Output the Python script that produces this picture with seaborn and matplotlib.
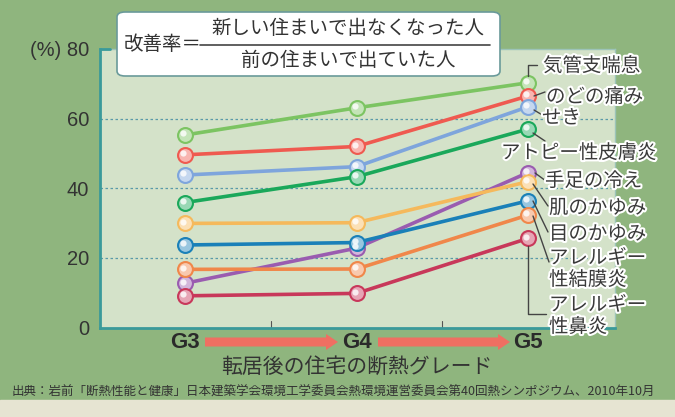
import matplotlib
matplotlib.use("Agg")
import matplotlib.pyplot as plt
import matplotlib.patheffects as pe
from matplotlib.patches import FancyBboxPatch, FancyArrow, Rectangle
import seaborn as sns
import pandas as pd
import numpy as np
import matplotlib.colors as mcolors

grades = ["G3", "G4", "G5"]
series_names = ["気管支喘息", "のどの痛み", "せき", "アトピー性皮膚炎", "手足の冷え",
                "肌のかゆみ", "目のかゆみ", "アレルギー性結膜炎", "アレルギー性鼻炎"]
v_kikanshi = [55.3, 63.1, 70.3]
v_nodo = [49.6, 52.0, 66.5]
v_seki = [43.8, 46.2, 63.4]
v_atopy = [35.9, 43.3, 57.0]
v_teashi = [12.7, 22.8, 44.5]
v_hada = [29.9, 30.1, 41.9]
v_me = [23.7, 24.4, 36.4]
v_ketsumaku = [16.7, 16.8, 32.3]
v_bien = [9.1, 9.8, 25.6]
values = [v_kikanshi, v_nodo, v_seki, v_atopy, v_teashi, v_hada, v_me, v_ketsumaku, v_bien]
colors = ["#7cc462", "#ef5a50", "#7ea5dc", "#1aa85a", "#9a5cb0",
          "#f5b95c", "#1a80b8", "#f0874a", "#c8385a"]
yticks = [0, 20, 40, 60, 80]

df = pd.DataFrame([(s, g, v) for s, vals in zip(series_names, values) for g, v in zip(grades, vals)],
                  columns=["series", "grade", "value"])
df["x"] = df["grade"].map({g: i for i, g in enumerate(grades)})

sns.set_theme(style="white")
plt.rcParams["font.family"] = ["Noto Sans CJK JP", "DejaVu Sans"]

W, H = 675, 417
fig = plt.figure(figsize=(W / 100, H / 100), dpi=100)
fig.patch.set_facecolor("#8fb57e")
fig.add_artist(Rectangle((0, 0), 1, 17 / H, transform=fig.transFigure, color="#e6e4d2", zorder=0))

def fx(px):
    return px / W
def fy(py):
    return 1 - py / H

ax = fig.add_axes([fx(100), fy(327.5), fx(615) - fx(100), fy(49) - fy(327.5)])
ax.set_facecolor("#d4e2c9")
pal = dict(zip(series_names, colors))
sns.lineplot(data=df, x="x", y="value", hue="series", palette=pal, hue_order=series_names,
             linewidth=2.6, legend=False, ax=ax, zorder=3)
for s, c in zip(series_names, colors):
    sub = df[df.series == s]
    light = mcolors.to_rgb(c)
    light = tuple(0.45 * np.array(light) + 0.55)
    ax.scatter(sub["x"], sub["value"], s=115, color=light, edgecolor=c, linewidth=1.5, zorder=4)
    ax.scatter(sub["x"] - 0.01, sub["value"] + 0.5, s=20, color="white", alpha=0.8, linewidth=0, zorder=5)

ax.set_xlim((100 - 185) / 171.5, (615 - 185) / 171.5)
ax.set_ylim(0, 80)
ax.set_yticks(yticks)
ax.set_yticklabels(["0", "20", "40", "60", "(%) 80"], fontsize=14.5, color="#333333",
                   fontfamily="Liberation Sans")
ax.tick_params(axis="y", length=0, pad=8)
ax.set_xticks([])
for y in [20, 40, 60]:
    ax.axhline(y, color="#5a9aa8", lw=0.9, ls=(0, (2, 2)), zorder=1)
ax.plot([-0.496, -0.44], [80, 80], color="#3a9a9a", lw=2, clip_on=False, zorder=6)
for xm in [0.5, 1.5]:
    ax.plot([xm, xm], [0, 2], color="#555555", lw=0.8, zorder=2)
for side in ["left", "bottom"]:
    ax.spines[side].set_color("#3a9a9a")
    ax.spines[side].set_linewidth(2)
for side in ["top", "right"]:
    ax.spines[side].set_color("#9cc4b8")
    ax.spines[side].set_linewidth(1)
ax.set_xlabel("")
ax.set_ylabel("")

# formula box
box = FancyBboxPatch((fx(117), fy(76)), fx(500) - fx(117), fy(12) - fy(76),
                     boxstyle="round,pad=0,rounding_size=0.012", transform=fig.transFigure,
                     facecolor="white", edgecolor="#6a9a9a", lw=1.2, zorder=10)
fig.add_artist(box)
fig.text(fx(124), fy(45), "改善率＝", fontsize=14, color="#333333", va="center", ha="left", zorder=11)
fig.add_artist(plt.Line2D([fx(200), fx(490)], [fy(45), fy(45)], transform=fig.transFigure,
                          color="#444444", lw=1.2, zorder=11))
fig.text(fx(348), fy(29), "新しい住まいで出なくなった人", fontsize=14, color="#333333",
         va="center", ha="center", zorder=11)
fig.text(fx(348), fy(60), "前の住まいで出ていた人", fontsize=14, color="#333333",
         va="center", ha="center", zorder=11)

# right labels
stroke = [pe.withStroke(linewidth=3, foreground="white")]
labels = [
    ("気管支喘息", 543, 66, "left"),
    ("のどの痛み", 546, 97, "left"),
    ("せき", 542, 118, "left"),
    ("アトピー性皮膚炎", 579, 153, "center"),
    ("手足の冷え", 545, 181, "left"),
    ("肌のかゆみ", 549, 208, "left"),
    ("目のかゆみ", 549, 234, "left"),
    ("アレルギー\n性結膜炎", 549, 269, "left"),
    ("アレルギー\n性鼻炎", 549, 316, "left"),
]
for t, x, y, ha in labels:
    fig.text(fx(x), fy(y), t, fontsize=14, color="#3a3a3a", va="center", ha=ha,
             path_effects=stroke, linespacing=1.05, zorder=12)

leaders = [
    [(528, 76), (528, 65), (537, 65)],
    [(534, 96), (545, 92)],
    [(534, 110), (544, 116)],
    [(533, 133), (545, 141)],
    [(535, 173), (546, 181)],
    [(533, 184), (548, 206)],
    [(533, 201), (548, 232)],
    [(533, 216), (549, 262)],
    [(528, 246), (528, 314), (546, 314)],
]
for pts in leaders:
    xs = [fx(p[0]) for p in pts]
    ys = [fy(p[1]) for p in pts]
    fig.add_artist(plt.Line2D(xs, ys, transform=fig.transFigure, color="#444444", lw=1.0, zorder=9))

# x grade labels and arrows
for g, px in zip(grades, [185, 357, 528]):
    fig.text(fx(px), fy(343), g, fontsize=16, color="#2a2a2a", ha="center", va="center",
             fontfamily="Liberation Sans", fontweight="bold")
for x0, x1 in [(205, 338), (378, 510)]:
    arr = FancyArrow(fx(x0), fy(342), fx(x1) - fx(x0), 0, width=9 / H, head_width=16 / H,
                     head_length=12 / W, length_includes_head=True, transform=fig.transFigure,
                     color="#ef6f62", lw=0)
    fig.add_artist(arr)

fig.text(fx(357), fy(367), "転居後の住宅の断熱グレード", fontsize=15, color="#333333",
         ha="center", va="center")
fig.text(fx(12), fy(392), "出典：岩前「断熱性能と健康」日本建築学会環境工学委員会熱環境運営委員会第40回熱シンポジウム、2010年10月",
         fontsize=9.0, color="#333333", ha="left", va="center")

fig.savefig("out.png", dpi=100, facecolor=fig.get_facecolor())
